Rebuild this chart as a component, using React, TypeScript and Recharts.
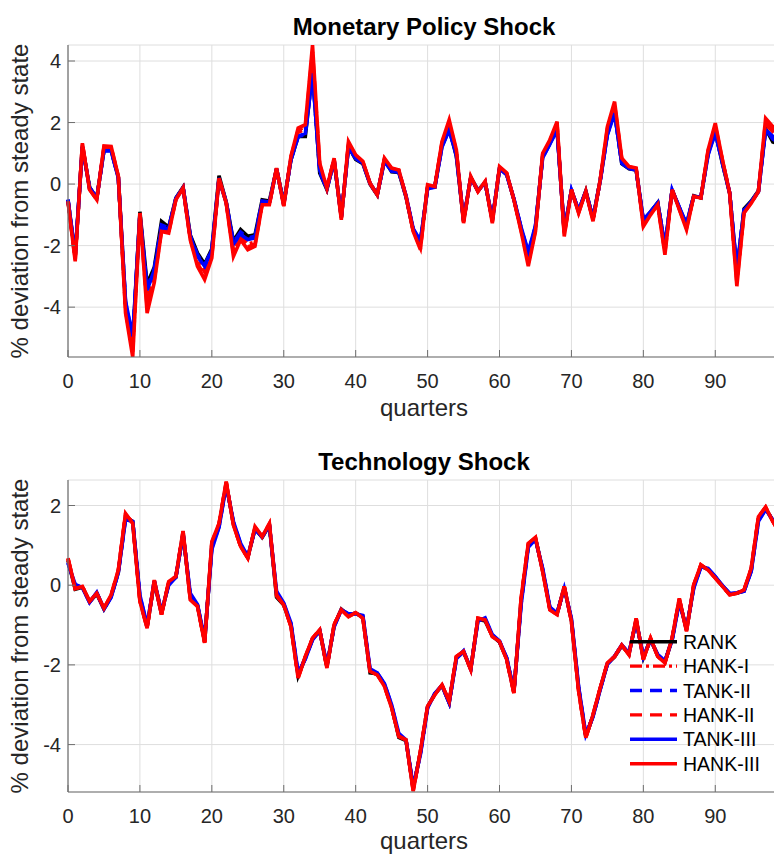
import { CartesianGrid, Line, LineChart, XAxis, YAxis } from 'recharts';

const FONT = '"Liberation Sans", Arial, Helvetica, sans-serif';
const INK = '#262626';
const AXIS = '#6e6e6e';
const GRID = '#dedede';

const xTicks = [0, 10, 20, 30, 40, 50, 60, 70, 80, 90];
const mpYTicks = [-4, -2, 0, 2, 4];
const tcYTicks = [-4, -2, 0, 2];
const mpDomain: [number, number] = [-5.62, 4.52];
const tcDomain: [number, number] = [-5.19, 2.64];

// Monetary policy shock, quarters 0..99
const mpRank = [
  -0.52, -2.35, 1.22, -0.1, -0.45, 1.1, 1.1, 0.22, -3.9, -5.1,
  -0.9, -3.25, -2.7, -1.21, -1.4, -0.45, -0.1, -1.65, -2.24, -2.6,
  -2.1, 0.27, -0.58, -1.85, -1.48, -1.7, -1.65, -0.51, -0.55, 0.5,
  -0.62, 0.78, 1.55, 1.55, 3.7, 0.36, -0.18, 0.78, -1.08, 1.22,
  0.8, 0.66, 0.0, -0.35, 0.78, 0.4, 0.38, -0.42, -1.5, -1.9,
  -0.12, -0.1, 1.25, 1.8, 0.9, -1.2, 0.22, -0.2, 0.05, -1.18,
  0.5, 0.32, -0.5, -1.45, -2.3, -1.4, 0.9, 1.32, 1.8, -1.55,
  -0.2, -0.88, -0.22, -1.12, 0.12, 1.65, 2.35, 0.66, 0.5, 0.46,
  -1.2, -0.9, -0.6, -2.05, -0.18, -0.78, -1.32, -0.38, -0.45, 1.0,
  1.7, 0.66, -0.3, -2.85, -0.8, -0.55, -0.22, 1.8, 1.37, 1.3,
];
const mpHank1 = [
  -0.54, -2.42, 1.28, -0.15, -0.48, 1.16, 1.15, 0.23, -4.0, -5.3,
  -0.95, -3.8, -3.0, -1.45, -1.5, -0.49, -0.12, -1.75, -2.5, -2.85,
  -2.25, 0.17, -0.6, -2.15, -1.7, -1.95, -1.88, -0.62, -0.63, 0.5,
  -0.68, 0.85, 1.68, 1.78, 4.05, 0.55, -0.14, 0.8, -1.1, 1.28,
  0.9, 0.7, 0.02, -0.34, 0.8, 0.47, 0.43, -0.39, -1.5, -2.0,
  -0.08, -0.09, 1.3, 1.92, 1.03, -1.2, 0.22, -0.23, 0.07, -1.2,
  0.53, 0.33, -0.49, -1.47, -2.45, -1.45, 0.92, 1.37, 1.88, -1.6,
  -0.19, -0.9, -0.24, -1.15, 0.12, 1.73, 2.48, 0.76, 0.55, 0.48,
  -1.27, -0.95, -0.64, -2.15, -0.19, -0.79, -1.39, -0.4, -0.43, 1.03,
  1.82, 0.75, -0.28, -3.05, -0.9, -0.6, -0.24, 1.95, 1.7, 1.5,
];
const mpTank2 = [
  -0.51, -2.32, 1.21, -0.11, -0.45, 1.09, 1.09, 0.21, -3.85, -5.0,
  -0.97, -3.38, -2.75, -1.33, -1.43, -0.47, -0.11, -1.68, -2.3, -2.64,
  -2.13, 0.2, -0.59, -1.9, -1.56, -1.75, -1.7, -0.55, -0.58, 0.49,
  -0.64, 0.79, 1.55, 1.6, 3.65, 0.4, -0.16, 0.76, -1.06, 1.21,
  0.83, 0.67, 0.01, -0.34, 0.76, 0.41, 0.39, -0.4, -1.47, -1.87,
  -0.14, -0.1, 1.22, 1.78, 0.93, -1.17, 0.21, -0.21, 0.05, -1.16,
  0.5, 0.31, -0.49, -1.42, -2.25, -1.37, 0.87, 1.31, 1.77, -1.52,
  -0.2, -0.86, -0.24, -1.11, 0.11, 1.62, 2.32, 0.67, 0.51, 0.45,
  -1.18, -0.9, -0.61, -2.02, -0.19, -0.76, -1.31, -0.39, -0.43, 0.97,
  1.68, 0.68, -0.29, -2.8, -0.83, -0.57, -0.24, 1.78, 1.46, 1.35,
];
const mpHank2 = [
  -0.55, -2.47, 1.31, -0.17, -0.5, 1.2, 1.19, 0.24, -4.1, -5.45,
  -0.94, -4.0, -3.1, -1.5, -1.55, -0.5, -0.13, -1.78, -2.58, -2.98,
  -2.33, 0.18, -0.61, -2.25, -1.76, -2.04, -1.95, -0.65, -0.65, 0.51,
  -0.7, 0.88, 1.75, 1.86, 4.3, 0.62, -0.13, 0.82, -1.13, 1.33,
  0.92, 0.72, 0.03, -0.35, 0.82, 0.5, 0.45, -0.4, -1.52, -2.07,
  -0.05, -0.08, 1.34, 2.0, 1.07, -1.23, 0.24, -0.24, 0.08, -1.23,
  0.55, 0.35, -0.5, -1.5, -2.56, -1.5, 0.96, 1.4, 1.96, -1.65,
  -0.18, -0.92, -0.24, -1.18, 0.13, 1.8, 2.58, 0.8, 0.56, 0.5,
  -1.32, -0.97, -0.66, -2.22, -0.18, -0.81, -1.43, -0.4, -0.44, 1.07,
  1.9, 0.77, -0.29, -3.18, -0.92, -0.61, -0.24, 2.05, 1.78, 1.55,
];
const mpTank3 = [
  -0.5, -2.3, 1.2, -0.12, -0.45, 1.08, 1.08, 0.2, -3.8, -4.95,
  -1.0, -3.45, -2.8, -1.42, -1.45, -0.48, -0.12, -1.7, -2.35, -2.67,
  -2.15, 0.15, -0.6, -1.95, -1.64, -1.8, -1.75, -0.58, -0.6, 0.48,
  -0.65, 0.8, 1.55, 1.65, 3.6, 0.45, -0.15, 0.75, -1.05, 1.2,
  0.85, 0.68, 0.02, -0.33, 0.75, 0.42, 0.4, -0.38, -1.45, -1.85,
  -0.15, -0.1, 1.2, 1.76, 0.95, -1.15, 0.2, -0.22, 0.05, -1.15,
  0.5, 0.3, -0.48, -1.4, -2.2, -1.35, 0.85, 1.3, 1.75, -1.5,
  -0.2, -0.85, -0.25, -1.1, 0.1, 1.6, 2.3, 0.68, 0.52, 0.45,
  -1.16, -0.9, -0.62, -2.0, -0.2, -0.75, -1.3, -0.4, -0.42, 0.95,
  1.66, 0.7, -0.28, -2.78, -0.85, -0.58, -0.25, 1.76, 1.55, 1.4,
];
const mpHank3 = [
  -0.56, -2.51, 1.33, -0.18, -0.51, 1.24, 1.22, 0.25, -4.19, -5.62,
  -0.94, -4.19, -3.2, -1.54, -1.59, -0.51, -0.13, -1.81, -2.67, -3.1,
  -2.4, 0.19, -0.62, -2.35, -1.81, -2.13, -2.02, -0.67, -0.67, 0.52,
  -0.72, 0.9, 1.82, 1.93, 4.52, 0.68, -0.13, 0.84, -1.16, 1.38,
  0.95, 0.74, 0.03, -0.35, 0.84, 0.52, 0.46, -0.4, -1.54, -2.13,
  -0.02, -0.08, 1.38, 2.09, 1.11, -1.27, 0.25, -0.24, 0.09, -1.27,
  0.57, 0.36, -0.51, -1.54, -2.67, -1.54, 1.0, 1.44, 2.03, -1.7,
  -0.18, -0.94, -0.24, -1.21, 0.14, 1.87, 2.68, 0.84, 0.57, 0.52,
  -1.38, -1.0, -0.67, -2.3, -0.18, -0.83, -1.48, -0.4, -0.45, 1.11,
  1.98, 0.79, -0.29, -3.32, -0.94, -0.62, -0.24, 2.14, 1.87, 1.6,
];

// Technology shock, quarters 0..99
const tcRank = [
  0.62, -0.1, -0.05, -0.42, -0.22, -0.6, -0.28, 0.33, 1.72, 1.6,
  -0.35, -1.05, 0.08, -0.72, 0.05, 0.2, 1.3, -0.3, -0.5, -1.42,
  1.0, 1.5, 2.55, 1.55, 1.0, 0.7, 1.42, 1.2, 1.5, -0.3,
  -0.5, -1.0, -2.28, -1.82, -1.35, -1.15, -2.05, -1.02, -0.6, -0.75,
  -0.7, -0.8, -2.2, -2.22, -2.5, -3.05, -3.82, -3.9, -5.1, -4.2,
  -3.05, -2.73, -2.52, -2.95, -1.82, -1.68, -2.1, -0.85, -0.9, -1.27,
  -1.43, -1.85, -2.68, -0.4, 1.0, 1.17, 0.38, -0.58, -0.72, -0.05,
  -0.88, -2.6, -3.8, -3.28, -2.6, -1.97, -1.8, -1.52, -1.72, -0.88,
  -1.82, -1.36, -1.76, -1.93, -1.36, -0.38, -1.12, -0.04, 0.48, 0.4,
  0.2, -0.02, -0.22, -0.2, -0.14, 0.38, 1.66, 1.93, 1.62, 1.32,
];
const tcHank1 = [
  0.65, -0.09, -0.04, -0.41, -0.21, -0.59, -0.26, 0.36, 1.76, 1.58,
  -0.38, -1.06, 0.1, -0.73, 0.07, 0.21, 1.33, -0.33, -0.51, -1.43,
  1.04, 1.52, 2.57, 1.53, 0.98, 0.69, 1.44, 1.21, 1.52, -0.27,
  -0.49, -1.02, -2.3, -1.8, -1.34, -1.13, -2.06, -1.0, -0.61, -0.77,
  -0.69, -0.81, -2.18, -2.23, -2.52, -3.06, -3.8, -3.89, -5.13, -4.18,
  -3.04, -2.74, -2.51, -2.93, -1.8, -1.67, -2.11, -0.84, -0.88, -1.28,
  -1.42, -1.86, -2.7, -0.36, 1.02, 1.18, 0.36, -0.6, -0.73, -0.04,
  -0.9, -2.63, -3.82, -3.26, -2.59, -1.96, -1.79, -1.51, -1.73, -0.85,
  -1.85, -1.34, -1.78, -1.94, -1.34, -0.35, -1.14, -0.01, 0.5, 0.39,
  0.19, -0.02, -0.23, -0.2, -0.13, 0.41, 1.69, 1.95, 1.61, 1.31,
];
const tcTank2 = [
  0.57, 0.0, -0.06, -0.43, -0.19, -0.6, -0.29, 0.32, 1.67, 1.6,
  -0.28, -1.02, 0.1, -0.68, 0.02, 0.2, 1.29, -0.24, -0.49, -1.37,
  0.94, 1.47, 2.52, 1.58, 1.03, 0.71, 1.41, 1.21, 1.5, -0.2,
  -0.47, -0.97, -2.23, -1.84, -1.36, -1.14, -2.02, -1.04, -0.61, -0.73,
  -0.71, -0.78, -2.14, -2.21, -2.48, -3.02, -3.76, -3.89, -5.08, -4.23,
  -3.07, -2.72, -2.52, -2.95, -1.84, -1.66, -2.1, -0.88, -0.85, -1.25,
  -1.41, -1.83, -2.66, -0.46, 0.97, 1.16, 0.4, -0.56, -0.71, -0.07,
  -0.86, -2.57, -3.77, -3.29, -2.61, -1.98, -1.79, -1.51, -1.71, -0.89,
  -1.8, -1.37, -1.75, -1.91, -1.37, -0.4, -1.1, -0.06, 0.47, 0.41,
  0.21, -0.01, -0.21, -0.19, -0.15, 0.36, 1.62, 1.91, 1.63, 1.34,
];
const tcHank2 = [
  0.67, -0.08, -0.03, -0.41, -0.2, -0.58, -0.25, 0.37, 1.78, 1.56,
  -0.4, -1.07, 0.12, -0.74, 0.08, 0.22, 1.35, -0.35, -0.52, -1.44,
  1.07, 1.54, 2.59, 1.52, 0.97, 0.68, 1.46, 1.22, 1.54, -0.25,
  -0.49, -1.03, -2.32, -1.79, -1.33, -1.12, -2.07, -0.99, -0.62, -0.78,
  -0.69, -0.82, -2.17, -2.24, -2.53, -3.07, -3.79, -3.88, -5.15, -4.17,
  -3.04, -2.75, -2.5, -2.92, -1.79, -1.66, -2.12, -0.83, -0.87, -1.29,
  -1.41, -1.87, -2.71, -0.34, 1.04, 1.19, 0.35, -0.61, -0.74, -0.03,
  -0.91, -2.65, -3.83, -3.25, -2.58, -1.95, -1.79, -1.5, -1.74, -0.84,
  -1.86, -1.33, -1.79, -1.95, -1.33, -0.34, -1.15, 0.0, 0.51, 0.38,
  0.18, -0.03, -0.24, -0.2, -0.12, 0.42, 1.71, 1.96, 1.6, 1.3,
];
const tcTank3 = [
  0.55, 0.02, -0.06, -0.43, -0.18, -0.6, -0.3, 0.32, 1.65, 1.6,
  -0.25, -1.0, 0.1, -0.66, 0.0, 0.2, 1.28, -0.2, -0.48, -1.35,
  0.9, 1.45, 2.5, 1.6, 1.05, 0.72, 1.4, 1.22, 1.5, -0.15,
  -0.45, -0.95, -2.2, -1.85, -1.37, -1.14, -2.0, -1.05, -0.62, -0.72,
  -0.72, -0.76, -2.1, -2.2, -2.47, -3.0, -3.72, -3.88, -5.05, -4.25,
  -3.08, -2.72, -2.52, -2.95, -1.85, -1.65, -2.1, -0.9, -0.82, -1.24,
  -1.4, -1.82, -2.65, -0.5, 0.95, 1.15, 0.42, -0.55, -0.7, -0.08,
  -0.84, -2.55, -3.75, -3.3, -2.62, -1.98, -1.78, -1.5, -1.7, -0.9,
  -1.78, -1.38, -1.74, -1.9, -1.38, -0.42, -1.08, -0.08, 0.46, 0.42,
  0.22, -0.01, -0.21, -0.19, -0.15, 0.35, 1.6, 1.9, 1.64, 1.35,
];
const tcHank3 = [
  0.68, -0.08, -0.03, -0.41, -0.2, -0.58, -0.24, 0.38, 1.8, 1.55,
  -0.41, -1.08, 0.13, -0.74, 0.09, 0.22, 1.36, -0.37, -0.53, -1.45,
  1.09, 1.55, 2.6, 1.51, 0.97, 0.68, 1.47, 1.22, 1.55, -0.24,
  -0.49, -1.04, -2.33, -1.79, -1.33, -1.12, -2.08, -0.99, -0.62, -0.79,
  -0.69, -0.83, -2.16, -2.25, -2.54, -3.08, -3.79, -3.88, -5.17, -4.17,
  -3.04, -2.75, -2.5, -2.92, -1.79, -1.66, -2.12, -0.83, -0.87, -1.29,
  -1.41, -1.87, -2.71, -0.33, 1.05, 1.2, 0.34, -0.62, -0.74, -0.03,
  -0.91, -2.66, -3.83, -3.25, -2.58, -1.95, -1.79, -1.5, -1.75, -0.83,
  -1.87, -1.33, -1.79, -1.95, -1.33, -0.33, -1.16, 0.01, 0.51, 0.38,
  0.18, -0.03, -0.24, -0.2, -0.12, 0.43, 1.72, 1.96, 1.6, 1.3,
];

// draw order: red solid HANK-III ends up on top
const SERIES = [
  { key: 'rank', name: 'RANK', color: '#000000', dash: undefined },
  { key: 'hank1', name: 'HANK-I', color: '#ff0000', dash: '12 4 3 4' },
  { key: 'tank2', name: 'TANK-II', color: '#0000ff', dash: '12 8' },
  { key: 'hank2', name: 'HANK-II', color: '#ff0000', dash: '12 8' },
  { key: 'tank3', name: 'TANK-III', color: '#0000ff', dash: undefined },
  { key: 'hank3', name: 'HANK-III', color: '#ff0000', dash: undefined },
];

function buildRows(set: Record<string, number[]>) {
  return set.rank.map((_, q) => {
    const row: Record<string, number> = { q };
    for (const s of SERIES) row[s.key] = set[s.key][q];
    return row;
  });
}

const mpRows = buildRows({
  rank: mpRank, hank1: mpHank1, tank2: mpTank2, hank2: mpHank2, tank3: mpTank3, hank3: mpHank3,
});
const tcRows = buildRows({
  rank: tcRank, hank1: tcHank1, tank2: tcTank2, hank2: tcHank2, tank3: tcTank3, hank3: tcHank3,
});

/** MATLAB-style ticks: short marks pointing into the plot, label outside. */
function XTick(props: any) {
  const { x, y, payload } = props;
  return (
    <g>
      <line x1={x} x2={x} y1={y} y2={y - 7} stroke={AXIS} />
      <text x={x} y={y + 31} textAnchor="middle" fill={INK} fontSize={20} fontFamily={FONT}>
        {payload.value}
      </text>
    </g>
  );
}

function YTick(props: any) {
  const { x, y, payload } = props;
  return (
    <g>
      <line x1={x} x2={x + 7} y1={y} y2={y} stroke={AXIS} />
      <text x={x - 7} y={y + 7} textAnchor="end" fill={INK} fontSize={20} fontFamily={FONT}>
        {payload.value}
      </text>
    </g>
  );
}

function Panel({
  rows,
  domain,
  yTicks,
  top,
  height,
  marginTop,
  xAxisHeight,
}: {
  rows: Record<string, number>[];
  domain: [number, number];
  yTicks: number[];
  top: number;
  height: number;
  marginTop: number;
  xAxisHeight: number;
}) {
  return (
    <div style={{ position: 'absolute', left: 0, top }}>
      <LineChart width={781} height={height} data={rows} margin={{ top: marginTop, right: 1, bottom: 0, left: 0 }}>
        <CartesianGrid stroke={GRID} strokeWidth={1} />
        <XAxis
          dataKey="q"
          type="number"
          domain={[0, 99]}
          ticks={xTicks}
          interval={0}
          height={xAxisHeight}
          tickSize={0}
          tickMargin={0}
          tickLine={false}
          axisLine={{ stroke: AXIS, strokeWidth: 1.2 }}
          tick={(p: any) => <XTick {...p} />}
        />
        <YAxis
          type="number"
          domain={domain}
          allowDataOverflow
          ticks={yTicks}
          interval={0}
          width={68}
          tickSize={0}
          tickMargin={0}
          tickLine={false}
          axisLine={{ stroke: AXIS, strokeWidth: 1.2 }}
          tick={(p: any) => <YTick {...p} />}
        />
        {SERIES.map((s) => (
          <Line
            key={s.key}
            dataKey={s.key}
            name={s.name}
            type="linear"
            stroke={s.color}
            strokeWidth={3.6}
            strokeDasharray={s.dash}
            dot={false}
            activeDot={false}
            isAnimationActive={false}
          />
        ))}
      </LineChart>
    </div>
  );
}

const YLABEL = '% deviation from steady state';

export default function App() {
  return (
    <div
      style={{
        position: 'absolute',
        left: 0,
        top: 0,
        width: 774,
        height: 854,
        overflow: 'hidden',
        background: '#ffffff',
        fontFamily: FONT,
      }}
    >
      <Panel rows={mpRows} domain={mpDomain} yTicks={mpYTicks} top={0} height={430} marginTop={45} xAxisHeight={73} />
      <Panel rows={tcRows} domain={tcDomain} yTicks={tcYTicks} top={430} height={424} marginTop={50} xAxisHeight={62} />
      <svg width={774} height={854} style={{ position: 'absolute', left: 0, top: 0, pointerEvents: 'none' }}>
        <g fontFamily={FONT}>
          <text x={424} y={35} textAnchor="middle" fontSize={24} fontWeight="bold" fill="#000">
            Monetary Policy Shock
          </text>
          <text x={424} y={470} textAnchor="middle" fontSize={24} fontWeight="bold" fill="#000">
            Technology Shock
          </text>
          <text x={424} y={416} textAnchor="middle" fontSize={24} fill={INK}>quarters</text>
          <text x={424} y={849} textAnchor="middle" fontSize={24} fill={INK}>quarters</text>
          <text x={28} y={201} textAnchor="middle" fontSize={24} fill={INK} transform="rotate(-90 28 201)">
            {YLABEL}
          </text>
          <text x={28} y={636} textAnchor="middle" fontSize={24} fill={INK} transform="rotate(-90 28 636)">
            {YLABEL}
          </text>
          {SERIES.map((s, i) => {
            const y = 641.7 + 24.4 * i;
            return (
              <g key={s.key}>
                <line x1={630} x2={677} y1={y} y2={y} stroke={s.color} strokeWidth={3.4} strokeDasharray={s.dash} />
                <text x={683} y={y + 7} fontSize={19.5} fill="#000">{s.name}</text>
              </g>
            );
          })}
        </g>
      </svg>
    </div>
  );
}
